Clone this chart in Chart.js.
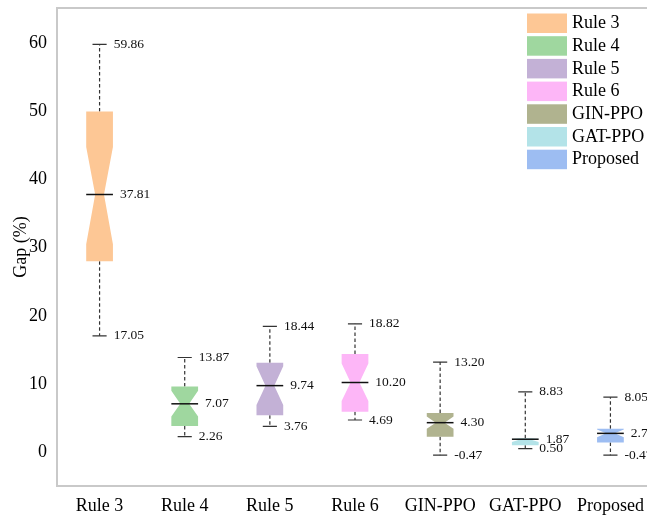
<!DOCTYPE html>
<html>
<head>
<meta charset="utf-8">
<script src="https://cdn.jsdelivr.net/npm/chart.js@4/dist/chart.umd.min.js"></script>
<style>
  html, body { margin: 0; padding: 0; background: #fff; overflow: hidden; }
  #wrap { width: 655px; height: 517px; }
</style>
</head>
<body>
<div id="wrap"><canvas id="gapChart" width="655" height="517"></canvas></div>
<script>
const categories = ["Rule 3", "Rule 4", "Rule 5", "Rule 6", "GIN-PPO", "GAT-PPO", "Proposed"];
const whiskerHigh = [59.86, 13.87, 18.44, 18.82, 13.20, 8.83, 8.05];
const q3 = [50.0, 9.6, 13.1, 14.4, 5.73, 2.0, 3.4];
const notchHigh = [44.8, 9.0, 12.6, 13.0, 5.2, 2.0, 3.3];
const medians = [37.81, 7.07, 9.74, 10.20, 4.30, 1.87, 2.73];
const notchLow = [30.5, 5.2, 6.9, 7.5, 3.4, 1.45, 2.15];
const q1 = [28.0, 3.8, 5.4, 5.9, 2.25, 1.0, 1.4];
const whiskerLow = [17.05, 2.26, 3.76, 4.69, -0.47, 0.50, -0.47];
const yTicks = [0, 10, 20, 30, 40, 50, 60];
const boxColors = ["#fdc795", "#9fd79f", "#c3b1d6", "#fdb6f7", "#b0b38f", "#b3e3e8", "#9dbdf2"];

const serif = '"Liberation Serif", "DejaVu Serif", serif';

// draws the notched boxes, whiskers, value labels, frame and legend
const notchBoxPlugin = {
  id: "notchBox",
  afterDatasetsDraw(chart) {
    const { ctx, chartArea, scales: { x, y } } = chart;
    const step = x.getPixelForValue(1) - x.getPixelForValue(0);
    const halfBox = step * 0.157;
    const halfCap = step * 0.083;
    const waist = 0.33;

    ctx.save();
    ctx.font = "13.5px " + serif;
    ctx.textBaseline = "middle";
    ctx.textAlign = "left";

    categories.forEach((c, i) => {
      const cx = x.getPixelForValue(i);
      const yHi = y.getPixelForValue(whiskerHigh[i]);
      const yLo = y.getPixelForValue(whiskerLow[i]);
      const yQ3 = y.getPixelForValue(q3[i]);
      const yQ1 = y.getPixelForValue(q1[i]);
      const yNH = y.getPixelForValue(notchHigh[i]);
      const yNL = y.getPixelForValue(notchLow[i]);
      const yMed = y.getPixelForValue(medians[i]);

      // whiskers
      ctx.strokeStyle = "#333";
      ctx.lineWidth = 1.2;
      ctx.setLineDash([3.5, 2.5]);
      ctx.beginPath();
      ctx.moveTo(cx, yQ3); ctx.lineTo(cx, yHi);
      ctx.moveTo(cx, yQ1); ctx.lineTo(cx, yLo);
      ctx.stroke();
      ctx.setLineDash([]);
      ctx.beginPath();
      ctx.moveTo(cx - halfCap, yHi); ctx.lineTo(cx + halfCap, yHi);
      ctx.moveTo(cx - halfCap, yLo); ctx.lineTo(cx + halfCap, yLo);
      ctx.stroke();

      // notched box
      const w = halfBox * waist;
      ctx.fillStyle = boxColors[i];
      ctx.beginPath();
      ctx.moveTo(cx - halfBox, yQ3);
      ctx.lineTo(cx + halfBox, yQ3);
      ctx.lineTo(cx + halfBox, yNH);
      ctx.lineTo(cx + w, yMed);
      ctx.lineTo(cx + halfBox, yNL);
      ctx.lineTo(cx + halfBox, yQ1);
      ctx.lineTo(cx - halfBox, yQ1);
      ctx.lineTo(cx - halfBox, yNL);
      ctx.lineTo(cx - w, yMed);
      ctx.lineTo(cx - halfBox, yNH);
      ctx.closePath();
      ctx.fill();

      // median
      ctx.strokeStyle = "#111";
      ctx.lineWidth = 1.5;
      ctx.beginPath();
      ctx.moveTo(cx - halfBox, yMed); ctx.lineTo(cx + halfBox, yMed);
      ctx.stroke();

      // value labels
      ctx.fillStyle = "#111";
      ctx.fillText(whiskerHigh[i].toFixed(2), cx + halfCap + 7, yHi);
      ctx.fillText(whiskerLow[i].toFixed(2), cx + halfCap + 7, yLo);
      ctx.fillText(medians[i].toFixed(2), cx + halfBox + 7, yMed);
    });

    // frame: left, top, bottom
    ctx.strokeStyle = "#c9c9c9";
    ctx.lineWidth = 2;
    ctx.beginPath();
    ctx.moveTo(chartArea.right + 5, chartArea.top);
    ctx.lineTo(chartArea.left, chartArea.top);
    ctx.lineTo(chartArea.left, chartArea.bottom);
    ctx.lineTo(chartArea.right + 5, chartArea.bottom);
    ctx.stroke();

    // legend
    ctx.font = "18px " + serif;
    categories.forEach((c, i) => {
      const top = 13.5 + i * 22.7;
      ctx.fillStyle = boxColors[i];
      ctx.fillRect(527, top, 40, 19.5);
      ctx.fillStyle = "#000";
      ctx.fillText(c, 572, top + 10);
    });
    ctx.restore();
  }
};

new Chart(document.getElementById("gapChart"), {
  type: "line",
  data: {
    labels: categories,
    datasets: [{
      label: "Median",
      data: medians,
      showLine: false,
      pointRadius: 0
    }]
  },
  options: {
    responsive: false,
    animation: false,
    events: [],
    layout: { padding: { top: 8, right: 2, left: 0, bottom: 0 } },
    plugins: { legend: { display: false }, tooltip: { enabled: false } },
    scales: {
      x: {
        offset: true,
        grid: { display: false, drawTicks: false },
        border: { display: false },
        ticks: { color: "#000", font: { family: serif, size: 18 }, padding: 9, maxRotation: 0 },
        afterFit: s => { s.height = 31; s.paddingLeft = 0; s.paddingRight = 0; }
      },
      y: {
        min: -5,
        max: 65.2,
        grid: { display: false, drawTicks: false },
        border: { display: false },
        ticks: { color: "#000", font: { family: serif, size: 18 }, padding: 10 },
        afterBuildTicks: s => { s.ticks = yTicks.map(v => ({ value: v })); },
        afterFit: s => { s.width = 57; s.paddingTop = 0; s.paddingBottom = 0; },
        title: {
          display: true,
          text: "Gap (%)",
          color: "#000",
          font: { family: serif, size: 18 },
          padding: { top: 10, bottom: 0 }
        }
      }
    }
  },
  plugins: [notchBoxPlugin]
});
</script>
</body>
</html>
